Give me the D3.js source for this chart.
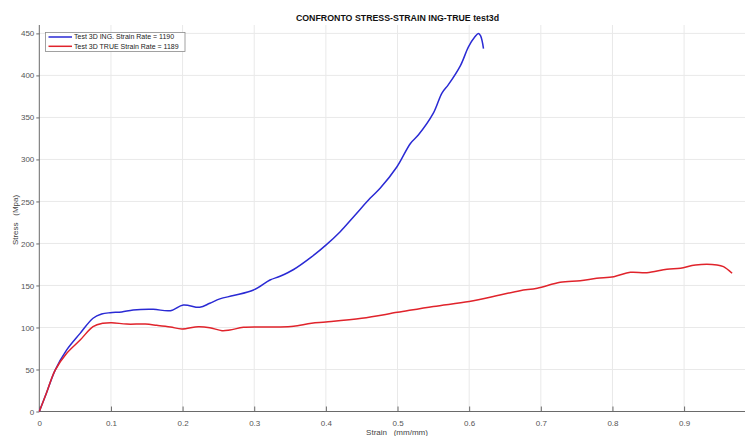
<!DOCTYPE html>
<html>
<head>
<meta charset="utf-8">
<script src="https://cdn.jsdelivr.net/npm/d3@7"></script>
<style>
  html, body { margin: 0; padding: 0; background: #fff; }
  svg { display: block; font-family: "Liberation Sans", Arial, sans-serif; }
  text { white-space: pre; }
</style>
</head>
<body>
<svg id="chart" width="746" height="436"></svg>
<script>
// Engineering stress-strain curve (strain, stress)
const ingStrain = [0, 0.010, 0.022, 0.038, 0.057, 0.075, 0.087, 0.099, 0.115, 0.131, 0.159, 0.183, 0.201, 0.224, 0.238, 0.252, 0.271, 0.299, 0.322, 0.336, 0.355, 0.380, 0.400, 0.420, 0.440, 0.462, 0.476, 0.499, 0.518, 0.529, 0.550, 0.562, 0.571, 0.588, 0.599, 0.608, 0.613, 0.616, 0.620];
const ingStress = [0, 22, 49, 73, 93, 111, 116, 117.6, 118.5, 120.8, 121.6, 120, 126.8, 124, 128.8, 134, 138, 144.6, 156.5, 161, 169, 184, 198, 214, 233, 254, 266, 291, 319, 329, 355, 379, 389, 412, 434, 446, 450, 447, 432];

// True stress-strain curve (strain, stress)
const trueStrain = [0, 0.010, 0.022, 0.038, 0.057, 0.075, 0.089, 0.101, 0.122, 0.148, 0.164, 0.183, 0.199, 0.222, 0.238, 0.255, 0.266, 0.285, 0.313, 0.336, 0.355, 0.380, 0.400, 0.450, 0.500, 0.550, 0.600, 0.643, 0.671, 0.695, 0.727, 0.755, 0.778, 0.802, 0.825, 0.848, 0.876, 0.895, 0.916, 0.946, 0.955, 0.967];
const trueStress = [0, 22, 49, 69, 85, 101, 105, 105.7, 104, 104, 102.6, 100.6, 98.2, 101, 99.8, 96.2, 97, 100.2, 100.6, 100.6, 101.5, 105, 106.5, 111, 118, 125, 131, 138.7, 143.8, 146.7, 153.8, 155.7, 158.5, 160.5, 165.7, 165.2, 169.3, 170.5, 174.4, 174.4, 172.4, 164.5];

const xTicks = [0, 0.1, 0.2, 0.3, 0.4, 0.5, 0.6, 0.7, 0.8, 0.9];
const yTicks = [0, 50, 100, 150, 200, 250, 300, 350, 400, 450];

const seriesNames = ["Test 3D ING. Strain Rate = 1190", "Test 3D TRUE Strain Rate = 1189"];
const seriesColors = ["#2a2ad4", "#e0232b"];

const titleText = "CONFRONTO STRESS-STRAIN ING-TRUE test3d";
const xLabel = "Strain   (mm/mm)";
const yLabel = "Stress   (Mpa)";

const svg = d3.select("#chart");
const plotLeft = 39.3, plotRight = 745, plotTop = 25, plotBottom = 411.5;

const x = d3.scaleLinear().domain([0, 0.985]).range([plotLeft, plotRight]);
const y = d3.scaleLinear().domain([0, 460]).range([plotBottom, plotTop]);

// grid
const grid = svg.append("g");
grid.selectAll("line.vg").data(xTicks.slice(1)).join("line")
  .attr("x1", d => x(d)).attr("x2", d => x(d))
  .attr("y1", plotBottom).attr("y2", plotTop)
  .attr("stroke", "#e9e9e9").attr("stroke-width", 1);
grid.selectAll("line.hg").data(yTicks.slice(1)).join("line")
  .attr("x1", plotLeft).attr("x2", plotRight)
  .attr("y1", d => y(d)).attr("y2", d => y(d))
  .attr("stroke", "#e9e9e9").attr("stroke-width", 1);

// axes
const xAxis = d3.axisBottom(x).tickValues(xTicks).tickFormat(d3.format("")).tickSizeInner(-5).tickSizeOuter(0).tickPadding(9);
const gx = svg.append("g").attr("transform", `translate(0,${plotBottom})`).call(xAxis);
gx.select(".domain").attr("stroke", "#6a6a6a").attr("d", `M${plotLeft},0H${plotRight}`);
gx.selectAll(".tick line").attr("stroke", "#6a6a6a");
gx.selectAll(".tick text").attr("fill", "#555").attr("font-size", 8).attr("font-family", "Liberation Sans, Arial, sans-serif");

const yAxis = d3.axisLeft(y).tickValues(yTicks).tickSizeInner(3).tickSizeOuter(0).tickPadding(2);
const gy = svg.append("g").attr("transform", `translate(${plotLeft},0)`).call(yAxis);
gy.select(".domain").attr("stroke", "#6a6a6a").attr("d", `M0,${plotBottom}V${plotTop}`);
gy.selectAll(".tick line").attr("stroke", "#6a6a6a");
gy.selectAll(".tick text").attr("fill", "#555").attr("font-size", 8).attr("font-family", "Liberation Sans, Arial, sans-serif");

// curves
const line = d3.line().x(d => x(d[0])).y(d => y(d[1])).curve(d3.curveCatmullRom.alpha(0.5));
const series = [
  d3.zip(ingStrain, ingStress),
  d3.zip(trueStrain, trueStress)
];
series.forEach((pts, i) => {
  svg.append("path").datum(pts)
    .attr("d", line)
    .attr("fill", "none")
    .attr("stroke", seriesColors[i])
    .attr("stroke-width", 1.5)
    .attr("stroke-linejoin", "round");
});

// title and labels
svg.append("text").attr("x", 397.5).attr("y", 21)
  .attr("text-anchor", "middle").attr("font-weight", "bold")
  .attr("font-size", 8.8).attr("fill", "#111").text(titleText);
svg.append("text").attr("x", 397).attr("y", 434.5)
  .attr("text-anchor", "middle").attr("font-size", 8).attr("fill", "#444").text(xLabel);
svg.append("text").attr("transform", "translate(17.5,220) rotate(-90)")
  .attr("text-anchor", "middle").attr("font-size", 8).attr("fill", "#444").text(yLabel);

// legend
const lg = svg.append("g");
lg.append("rect").attr("x", 45.5).attr("y", 32.5).attr("width", 139.5).attr("height", 19)
  .attr("fill", "#fff").attr("stroke", "#8a8a8a").attr("stroke-width", 0.8);
seriesNames.forEach((name, i) => {
  const yy = 37 + i * 9.3;
  lg.append("line").attr("x1", 48.5).attr("x2", 72).attr("y1", yy).attr("y2", yy)
    .attr("stroke", seriesColors[i]).attr("stroke-width", 1.5);
  lg.append("text").attr("x", 74).attr("y", yy + 2.4)
    .attr("font-size", 7).attr("fill", "#222").text(name);
});
</script>
</body>
</html>
